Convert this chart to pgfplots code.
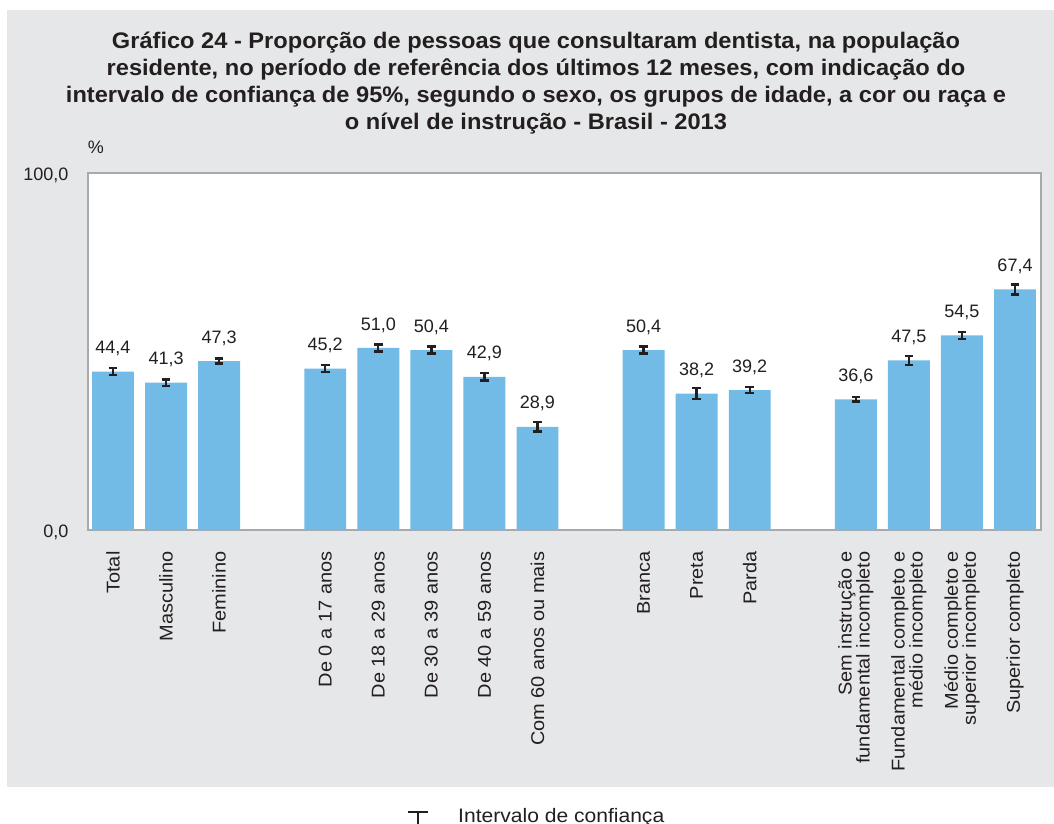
\documentclass[border=0pt]{standalone}
\usepackage{pgfplots}
\pgfplotsset{compat=1.18}
\usepackage{pgfplotstable}
\usepackage{fontspec}
\setmainfont{Liberation Sans}
\newfontfamily\titlefont[FakeStretch=1.05]{Liberation Sans}
\newfontfamily\widefont[FakeStretch=1.08]{Liberation Sans}
\definecolor{bg}{HTML}{E6E7E8}
\definecolor{barblue}{HTML}{72BBE6}
\definecolor{txt}{HTML}{231F20}
\definecolor{frame}{HTML}{A7A9AC}
\pgfplotstableread{
x y e lab
0 44.4 0.9 44,4
1 41.3 0.9 41,3
2 47.3 0.7 47,3
4 45.2 1.0 45,2
5 51.0 1.0 51,0
6 50.4 1.0 50,4
7 42.9 1.0 42,9
8 28.9 1.3 28,9
10 50.4 1.0 50,4
11 38.2 1.5 38,2
12 39.2 0.9 39,2
14 36.6 0.6 36,6
15 47.5 1.3 47,5
16 54.5 1.0 54,5
17 67.4 1.4 67,4
}\datatable
\begin{document}
\begin{tikzpicture}[x=1pt,y=1pt]
\useasboundingbox (0,0) rectangle (1054,-823);
\fill[bg] (7,-10) rectangle (1054,-787);
\node[text=txt, font=\titlefont\fontsize{22.5}{27}\selectfont\bfseries, align=center] at (536,-83)
{Gráfico 24 - Proporção de pessoas que consultaram dentista, na população\\
residente, no período de referência dos últimos 12 meses, com indicação do\\
intervalo de confiança de 95\%, segundo o sexo, os grupos de idade, a cor ou raça e\\
o nível de instrução - Brasil - 2013};
\node[text=txt, font=\fontsize{18}{20}\selectfont] at (96,-147) {\%};
\begin{axis}[
  at={(88pt,-530pt)}, anchor=south west,
  width=953pt, height=357pt, scale only axis,
  xmin=-0.471, xmax=17.49, ymin=0, ymax=100,
  axis background/.style={fill=white},
  axis line style={frame, line width=1.5pt},
  ytick={0,100}, yticklabels={{0,0},{100,0}},
  yticklabel style={font=\fontsize{18}{20}\selectfont, text=txt, xshift=-16pt, yshift=-2pt},
  major tick length=0pt,
  xtick={0,1,2,4,5,6,7,8,10,11,12,14,15,16,17},
  xticklabels={Total,Masculino,Feminino,De 0 a 17 anos,De 18 a 29 anos,De 30 a 39 anos,De 40 a 59 anos,Com 60 anos ou mais,Branca,Preta,Parda,{Sem instrução e\\fundamental incompleto},{Fundamental completo e\\médio incompleto},{Médio completo e\\superior incompleto},Superior completo},
  xticklabel style={rotate=90, anchor=east, align=right, text=txt,
    font=\widefont\fontsize{18.5}{18}\selectfont, xshift=-18pt},
  clip=false,
]
\addplot[ybar, bar width=0.79, fill=barblue, draw=none,
  error bars/.cd, y dir=both, y explicit,
  error bar style={line width=2.4pt, txt},
  error mark options={line width=2.4pt, txt, mark size=4.3pt, rotate=90},
]
  table[x=x, y=y, y error=e, meta=lab] {\datatable};
\addplot[draw=none, mark=none,
  nodes near coords, point meta=explicit symbolic,
  every node near coord/.append style={anchor=center, yshift=23pt, text=txt, font=\fontsize{18}{20}\selectfont}]
  table[x=x, y=y, meta=lab] {\datatable};
\end{axis}
\draw[txt, line width=1.2pt] (408,-812) -- (428,-812) (418,-812) -- (418,-830);
\node[text=txt, font=\widefont\fontsize{19.5}{22}\selectfont, anchor=base west, inner sep=0pt] at (458,-822.5) {Intervalo de confiança};
\end{tikzpicture}
\end{document}
